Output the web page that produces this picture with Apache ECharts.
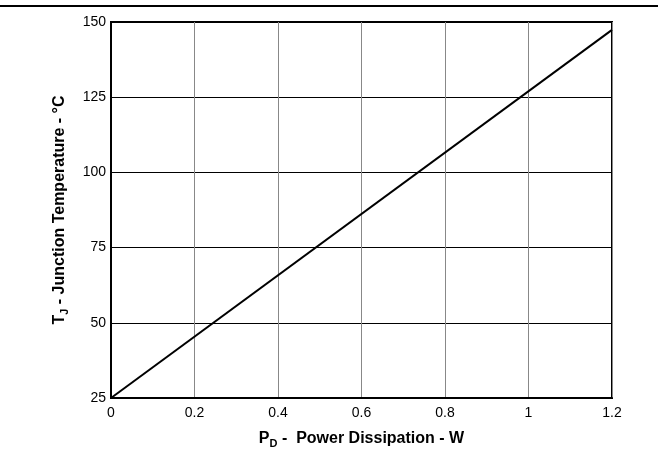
<!DOCTYPE html>
<html><head><meta charset="utf-8">
<script src="https://cdn.jsdelivr.net/npm/echarts@6/dist/echarts.min.js"></script>
<style>html,body{margin:0;padding:0;background:#fff}#c{width:658px;height:452px}</style>
</head><body><div id="c"></div>
<script>
const pd = [0, 1.2];
const tj = [25, 147.4];
const xTicks = ['0', '0.2', '0.4', '0.6', '0.8', '1', '1.2'];
const yTicks = ['25', '50', '75', '100', '125', '150'];

const chart = echarts.init(document.getElementById('c'), null, {renderer: 'canvas'});
const font = 'Liberation Sans, Arial, sans-serif';
const rich = {
  b: {fontFamily: font, fontWeight: 'bold', fontSize: 16, color: '#000'},
  s: {fontFamily: font, fontWeight: 'bold', fontSize: 11, color: '#000', padding: [9, 0, 0, 0]}
};
chart.setOption({
  animation: false,
  backgroundColor: '#fff',
  grid: {left: 111, right: 46, top: 22, bottom: 54, show: true, borderColor: '#000', borderWidth: 2,
    containLabel: false, outerBoundsMode: 'none'},
  graphic: [{type: 'line', shape: {x1: 0, y1: 6, x2: 658, y2: 6}, style: {stroke: '#000', lineWidth: 2}}],
  xAxis: {
    type: 'value', min: 0, max: 1.2, interval: 0.2,
    name: '{b|P}{s|D}{b| -  Power Dissipation - W}',
    nameLocation: 'middle', nameGap: 31,
    nameTextStyle: {rich: rich},
    axisLine: {show: true, lineStyle: {color: '#000', width: 2}},
    axisTick: {show: false},
    axisLabel: {fontFamily: font, fontSize: 14, color: '#000', margin: 8,
      formatter: v => xTicks[Math.round(v / 0.2)]},
    splitLine: {show: true, lineStyle: {color: '#888', width: 1}}
  },
  yAxis: {
    type: 'value', min: 25, max: 150, interval: 25,
    name: '{b|T}{s|J}{b| - Junction Temperature - °C}',
    nameLocation: 'middle', nameGap: 41, nameRotate: 90,
    nameTextStyle: {rich: rich},
    axisLine: {show: true, lineStyle: {color: '#000', width: 2}},
    axisTick: {show: false},
    axisLabel: {fontFamily: font, fontSize: 14, color: '#000', margin: 5,
      formatter: v => yTicks[Math.round((v - 25) / 25)]},
    splitLine: {show: true, lineStyle: {color: '#000', width: 1}}
  },
  series: [{
    type: 'line', data: pd.map((x, i) => [x, tj[i]]), symbol: 'none',
    lineStyle: {color: '#000', width: 2}
  }]
});
</script></body></html>
